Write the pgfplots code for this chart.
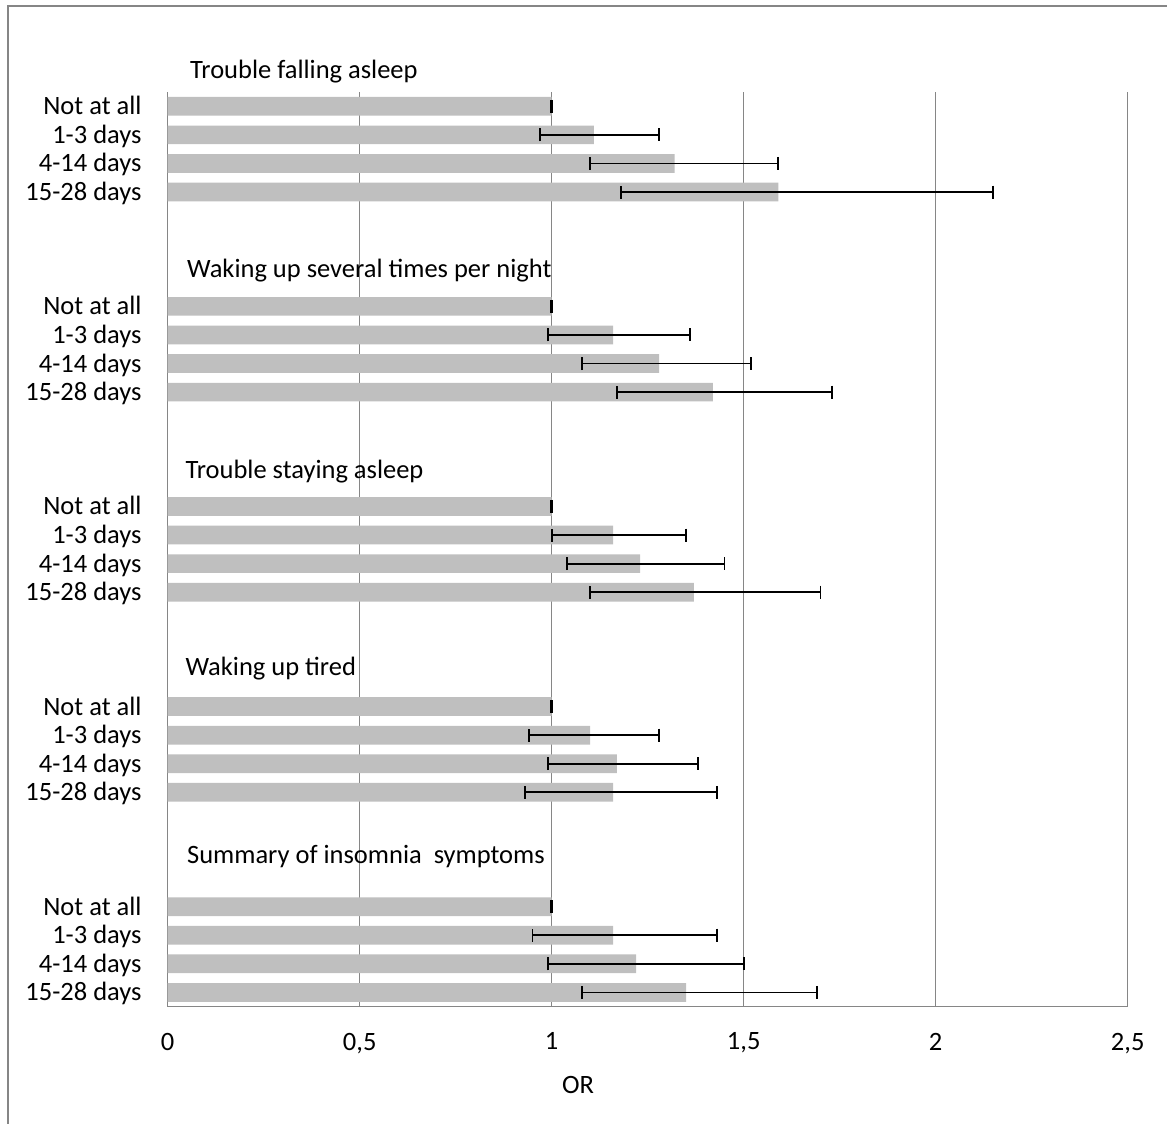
\documentclass[border=0pt]{standalone}
\usepackage{fontspec}
\setmainfont{Carlito}
\usepackage{pgfplots}
\pgfplotsset{compat=1.18}
\usepackage{pgfplotstable}
\definecolor{barg}{RGB}{191,191,191}
\definecolor{gridg}{RGB}{134,134,134}

\pgfplotstableread{
y x lo hi
0 1.00 0.999 1.001
1 1.11 0.97 1.28
2 1.32 1.10 1.59
3 1.59 1.18 2.15
7 1.00 0.999 1.001
8 1.16 0.99 1.36
9 1.28 1.08 1.52
10 1.42 1.17 1.73
14 1.00 0.999 1.001
15 1.16 1.00 1.35
16 1.23 1.04 1.45
17 1.37 1.10 1.70
21 1.00 0.999 1.001
22 1.10 0.94 1.28
23 1.17 0.99 1.38
24 1.16 0.93 1.43
28 1.00 0.999 1.001
29 1.16 0.95 1.43
30 1.22 0.99 1.50
31 1.35 1.08 1.69
}\data

\newcommand{\lab}{\fontsize{26.5bp}{30bp}\selectfont}

\begin{document}
\begin{tikzpicture}
\path[use as bounding box] (0,0) rectangle (1167bp,1124bp);
\draw[gridg, line width=1.5bp] (8bp,0) -- (8bp,1118bp) -- (1167bp,1118bp);
\begin{axis}[
  at={(167.7bp,117.3bp)}, anchor=south west,
  scale only axis, width=960bp, height=914.7bp,
  xmin=0, xmax=2.5, ymin=-0.5, ymax=31.5, y dir=reverse,
  axis x line*=bottom, axis y line*=left,
  axis line style={gridg, line width=1.5bp},
  xtick={0,0.5,1,1.5,2,2.5},
  xmajorgrids, major grid style={gridg, line width=1.5bp},
  major tick length=0,
  ytick={0,1,2,3,7,8,9,10,14,15,16,17,21,22,23,24,28,29,30,31},
  yticklabels={Not at all,1-3 days,4-14 days,15-28 days,Not at all,1-3 days,4-14 days,15-28 days,Not at all,1-3 days,4-14 days,15-28 days,Not at all,1-3 days,4-14 days,15-28 days,Not at all,1-3 days,4-14 days,15-28 days},
  /pgf/number format/use comma,
  /pgf/number format/assume math mode=true,
  tick label style={font=\lab, text=black},
  xticklabel style={anchor=north, yshift=-26bp, inner sep=0pt},
  yticklabel style={anchor=base east, xshift=-26bp, yshift=-8.5bp, inner sep=0pt},
  xlabel={OR},
  xlabel style={font=\lab, at={(axis description cs:0.4274,0)}, anchor=north, yshift=-69bp, inner sep=0pt},
  clip=false,
]
\addplot[xbar, bar width=18.7bp, fill=barg, draw=none,
  error bars/.cd, x dir=both, x explicit, error mark=|,
  error bar style={black, line width=1.8bp},
  error mark options={black, line width=1.9bp, mark size=6.5bp}]
  table[x=x, y=y, x error plus expr=\thisrow{hi}-\thisrow{x}, x error minus expr=\thisrow{x}-\thisrow{lo}] {\data};
\node[anchor=base west, font=\lab, inner sep=0pt] at (axis cs:0.058,-0.955) {Trouble falling asleep};
\node[anchor=base west, font=\lab, inner sep=0pt] at (axis cs:0.050,5.973) {Waking up several times per night};
\node[anchor=base west, font=\lab, inner sep=0pt] at (axis cs:0.046,13.006) {Trouble staying asleep};
\node[anchor=base west, font=\lab, inner sep=0pt] at (axis cs:0.046,19.899) {Waking up tired};
\node[anchor=base west, font=\lab, inner sep=0pt] at (axis cs:0.050,26.477) {Summary of insomnia\ \ symptoms};
\end{axis}
\end{tikzpicture}
\end{document}
